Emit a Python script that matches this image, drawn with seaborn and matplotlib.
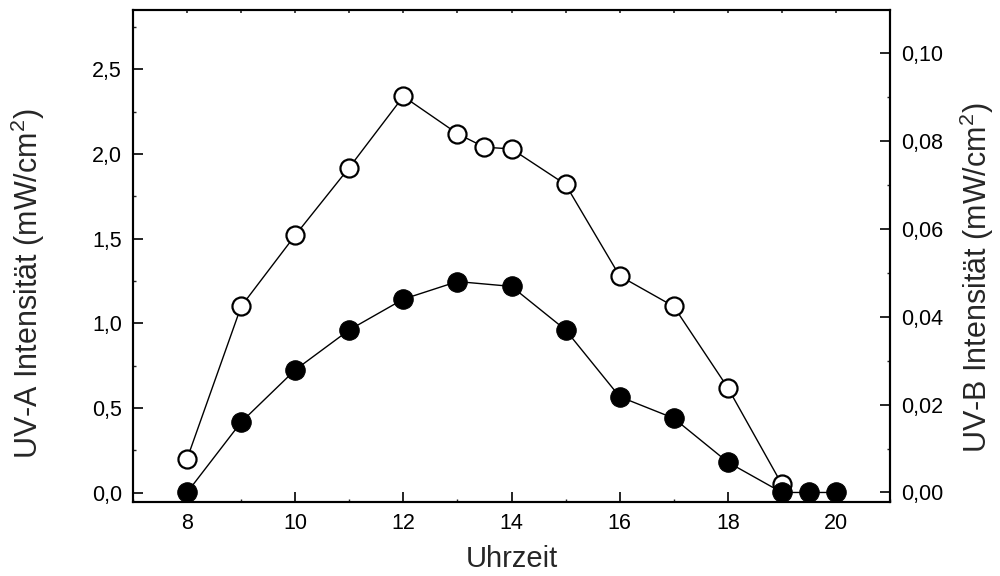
import numpy as np
import pandas as pd
import matplotlib
matplotlib.use("Agg")
import matplotlib.pyplot as plt
from matplotlib.ticker import MultipleLocator, FuncFormatter, FixedLocator
import seaborn as sns

# Measured daily course of UV irradiance
hours_uva = [8, 9, 10, 11, 12, 13, 13.5, 14, 15, 16, 17, 18, 19]
uva = [0.20, 1.10, 1.52, 1.92, 2.34, 2.12, 2.04, 2.03, 1.82, 1.28, 1.10, 0.62, 0.05]

hours_uvb = [8, 9, 10, 11, 12, 13, 14, 15, 16, 17, 18, 19, 19.5, 20]
uvb = [0.0, 0.0160, 0.0279, 0.0370, 0.0440, 0.0480, 0.0469, 0.0370,
       0.0218, 0.0169, 0.0069, 0.0, 0.0, 0.0]

x_ticks = [8, 10, 12, 14, 16, 18, 20]

sns.set_theme(style="ticks")
plt.rcParams["font.family"] = ["Liberation Sans", "DejaVu Sans"]
plt.rcParams["mathtext.fontset"] = "custom"
plt.rcParams["mathtext.rm"] = "Liberation Sans"

df_a = pd.DataFrame({"Uhrzeit": hours_uva, "UVA": uva})
df_b = pd.DataFrame({"Uhrzeit": hours_uvb, "UVB": uvb})

fig = plt.figure(figsize=(10, 5.76), dpi=100)
ax = fig.add_axes([0.133, 0.129, 0.757, 0.8536])
ax2 = ax.twinx()

sns.lineplot(data=df_a, x="Uhrzeit", y="UVA", ax=ax, color="black", lw=1.0,
             marker="o", markersize=13, markerfacecolor="white",
             markeredgecolor="black", markeredgewidth=1.6)
sns.lineplot(data=df_b, x="Uhrzeit", y="UVB", ax=ax2, color="black", lw=1.0,
             marker="o", markersize=14, markerfacecolor="black",
             markeredgecolor="black", markeredgewidth=0.8)

ax.set_xlim(7, 21)
ax.set_ylim(-0.053, 2.85)
ax2.set_ylim(-0.0021, 0.1098)

comma1 = FuncFormatter(lambda v, _: f"{v:.1f}".replace(".", ","))
comma2 = FuncFormatter(lambda v, _: f"{v:.2f}".replace(".", ","))

ax.xaxis.set_major_locator(FixedLocator(x_ticks))
ax.xaxis.set_minor_locator(MultipleLocator(1))
ax.yaxis.set_major_locator(MultipleLocator(0.5))
ax.yaxis.set_minor_locator(MultipleLocator(0.25))
ax.yaxis.set_major_formatter(comma1)
ax2.yaxis.set_major_locator(MultipleLocator(0.02))
ax2.yaxis.set_minor_locator(MultipleLocator(0.01))
ax2.yaxis.set_major_formatter(comma2)

for a in (ax, ax2):
    for s in a.spines.values():
        s.set_linewidth(1.5)
        s.set_color("black")

ax.tick_params(which="major", direction="in", length=7.5, width=1.2,
               labelsize=15.5, pad=8, colors="black", top=False, right=False)
ax.tick_params(which="minor", direction="in", length=2.5, width=1.0,
               top=False, right=False)
ax2.tick_params(which="major", direction="in", length=7.5, width=1.2,
                labelsize=15.5, pad=8, colors="black")
ax2.tick_params(which="minor", direction="in", length=2.5, width=1.0)

top = ax.secondary_xaxis("top")
top.xaxis.set_major_locator(MultipleLocator(1))
top.tick_params(direction="in", length=2, width=1.2, labeltop=False)

ax.set_xlabel("Uhrzeit", fontsize=21, labelpad=8)
ax.set_ylabel(r"UV-A Intensität (mW/cm$^\mathregular{2}$)", fontsize=22)
ax2.set_ylabel(r"UV-B Intensität (mW/cm$^\mathregular{2}$)", fontsize=22)
ax.yaxis.set_label_coords(-0.114, 0.443)
ax2.yaxis.set_label_coords(1.089, 0.455)

fig.savefig("out.png", dpi=100, facecolor="white")
